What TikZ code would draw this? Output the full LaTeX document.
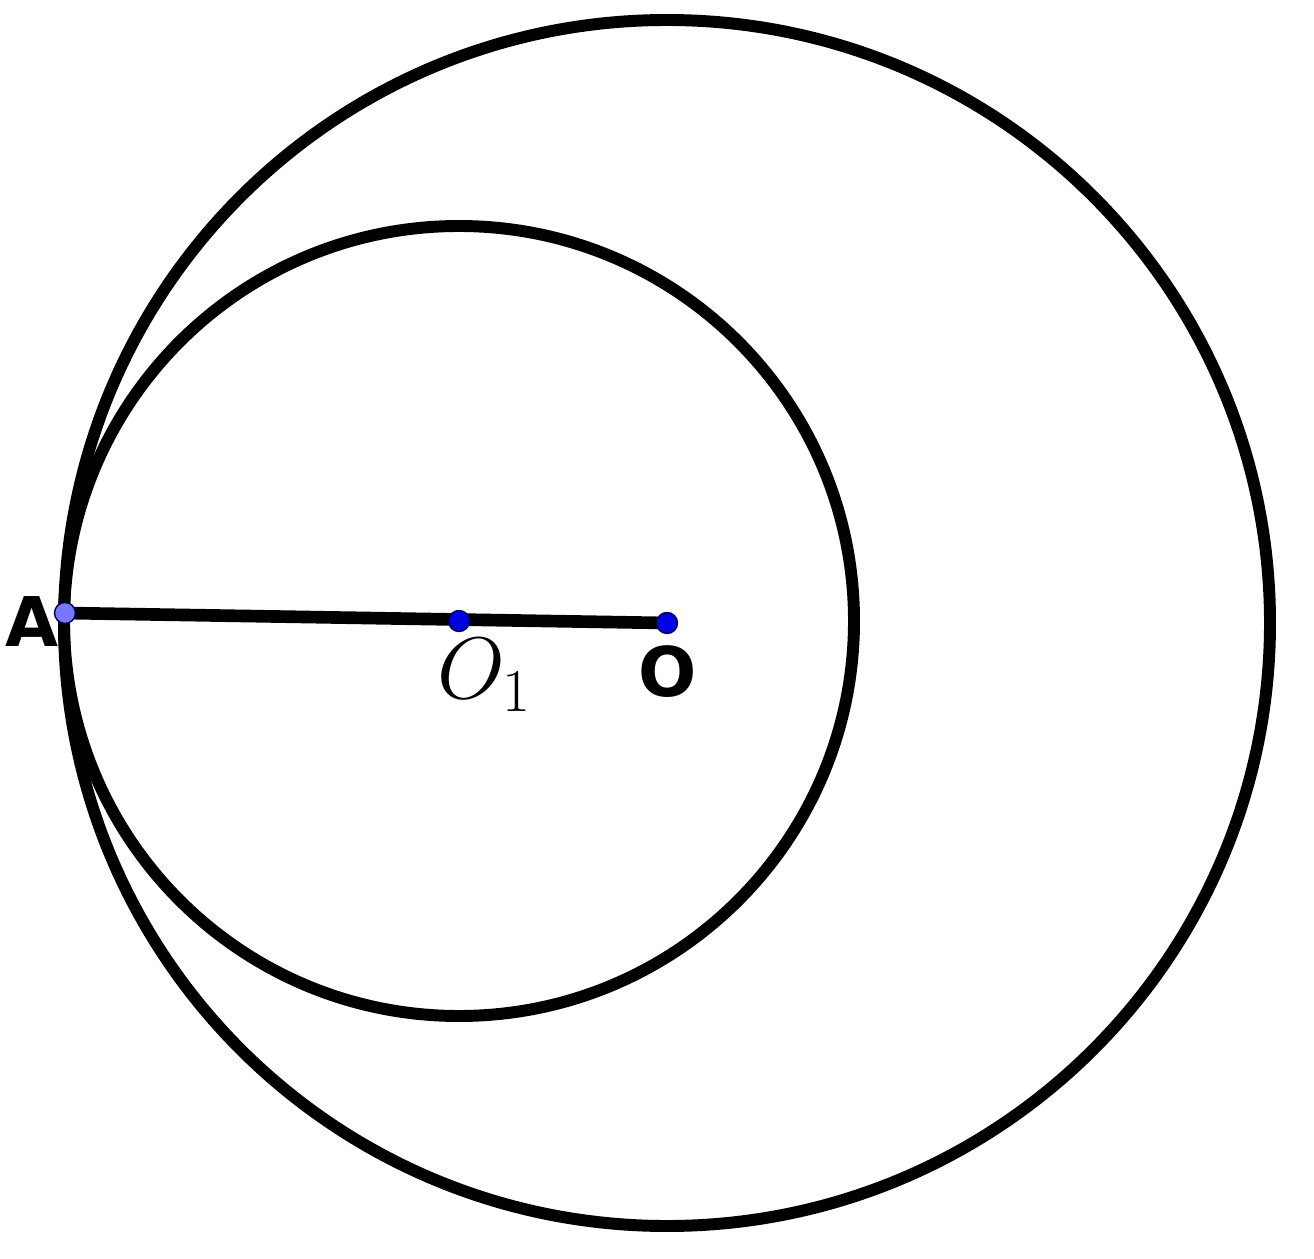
\documentclass[tikz,border=0pt]{standalone}
\usepackage{fontspec}
\newfontfamily\labelfont{DejaVu Sans}
\usepackage{tikz}
\usetikzlibrary{calc}
\usepackage{amsmath}
\definecolor{ptblue}{RGB}{0,0,230}
\definecolor{ptlight}{RGB}{120,120,255}
\tikzset{
  curve/.style={line width=3.4pt},
  pt/.style={circle,draw=black!70!blue,line width=0.4pt,inner sep=0pt,minimum size=0.21cm,fill=ptblue},
  ptlabel/.style={font=\labelfont\bfseries\fontsize{19.5}{22}\selectfont}
}
\begin{document}
\begin{tikzpicture}
\useasboundingbox (0,0) rectangle (13.14,12.58);
\coordinate (O) at (6.67,6.35);
\coordinate (O1) at (4.59,6.37);
\coordinate (A) at (0.65,6.45);
\draw[curve] (O) circle (6.03);
\draw[curve] (O1) circle (3.95);
\draw[line width=3.6pt] (A) -- (O);
\node[pt] (pO1) at (O1) {};
\node[pt] (pO) at (O) {};
\node[pt,fill=ptlight] (pA) at (A) {};
\node[ptlabel] (lA) at (0.32,6.36) {A};
\node[ptlabel] (lO) at (6.68,5.86) {O};
\node[font=\fontsize{23}{27}\selectfont] (lO1) at (4.85,5.83) {$O_1$};
\end{tikzpicture}
\end{document}
